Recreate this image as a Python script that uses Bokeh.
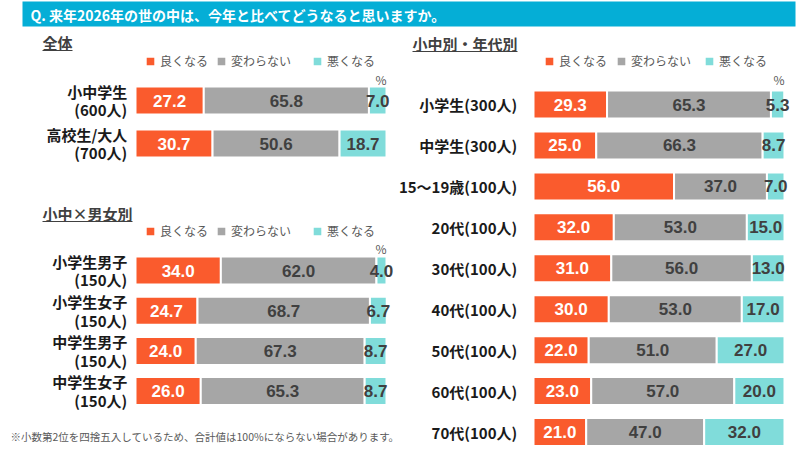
from bokeh.plotting import figure
from bokeh.models import Range1d, ColumnDataSource, Legend, LegendItem
from bokeh.embed import file_html
from bokeh.resources import INLINE
from bokeh.core.properties import value

# ---------------- data ----------------
title_text = "Q. 来年2026年の世の中は、今年と比べてどうなると思いますか。"
series = ["良くなる", "変わらない", "悪くなる"]
colors = ["#FA5B2D", "#A6A6A6", "#80DCDA"]

total_title = "全体"
total_cats = ["小中学生\n(600人)", "高校生/大人\n(700人)"]
total_good = [27.2, 30.7]
total_same = [65.8, 50.6]
total_bad = [7.0, 18.7]

gender_title = "小中×男女別"
gender_cats = ["小学生男子\n(150人)", "小学生女子\n(150人)", "中学生男子\n(150人)", "中学生女子\n(150人)"]
gender_good = [34.0, 24.7, 24.0, 26.0]
gender_same = [62.0, 68.7, 67.3, 65.3]
gender_bad = [4.0, 6.7, 8.7, 8.7]

age_title = "小中別・年代別"
age_cats = ["小学生(300人)", "中学生(300人)", "15〜19歳(100人)", "20代(100人)", "30代(100人)",
            "40代(100人)", "50代(100人)", "60代(100人)", "70代(100人)"]
age_good = [29.3, 25.0, 56.0, 32.0, 31.0, 30.0, 22.0, 23.0, 21.0]
age_same = [65.3, 66.3, 37.0, 53.0, 56.0, 53.0, 51.0, 57.0, 47.0]
age_bad = [5.3, 8.7, 7.0, 15.0, 13.0, 17.0, 27.0, 20.0, 32.0]

footnote = "※小数第2位を四捨五入しているため、合計値は100%にならない場合があります。"

# ---------------- figure ----------------
W, H = 800, 464
JP = value("Noto Sans CJK JP")
NUM = value("Liberation Sans")

p = figure(width=W, height=H, x_range=Range1d(0, W), y_range=Range1d(H, 0),
           x_axis_type=None, y_axis_type=None, output_backend="svg",
           toolbar_location=None, min_border=0, outline_line_color=None)
p.grid.visible = False
p.background_fill_color = "white"
p.border_fill_color = "white"

# percent scales for the two columns (0..100 -> bar span)
p.extra_x_ranges = {
    "xl": Range1d(-135 / 2.51, (W - 135) / 2.51),
    "xr": Range1d(-533 / 2.51, (W - 533) / 2.51),
}


def row_range(y0, step):
    return Range1d((H - y0) / step, -y0 / step)


p.extra_y_ranges = {
    "ya": row_range(100, 43.0),
    "yb": row_range(270, 40.2),
    "yc": row_range(104, 40.94),
}

# title bar
p.quad(left=[22], right=[795], top=[1], bottom=[26], fill_color="#05AED6", line_color=None)
p.text(x=[30], y=[14], text=[title_text], text_font=JP, text_font_size="14px",
       text_font_style="bold", text_color="white", text_baseline="middle")


def heading(x, y, txt, width):
    p.text(x=[x], y=[y], text=[txt], text_font=JP, text_font_size="15px",
           text_font_style="bold", text_color="#404040", text_baseline="middle")
    p.segment(x0=[x], x1=[x + width], y0=[y + 8], y1=[y + 8], line_color="#404040", line_width=1)


def panel(cats, good, same, bad, xr, yr, h, lab_x, legend_xs, legend_y, pct_y):
    idx = list(range(len(cats)))
    g_end = [g for g in good]
    s_end = [g + s for g, s in zip(good, same)]
    b_end = [g + s + b for g, s, b in zip(good, same, bad)]
    src = ColumnDataSource(dict(
        y=idx, cat=cats,
        l0=[0] * len(idx), r0=g_end,
        l1=g_end, r1=s_end,
        l2=s_end, r2=b_end,
        m0=[(a + b) / 2 for a, b in zip([0] * len(idx), g_end)],
        m1=[(a + b) / 2 for a, b in zip(g_end, s_end)],
        m2=[(a + b) / 2 for a, b in zip(s_end, b_end)],
        t0=[f"{v:.1f}" for v in good],
        t1=[f"{v:.1f}" for v in same],
        t2=[f"{v:.1f}" for v in bad],
    ))
    rends = []
    for k in range(3):
        r = p.hbar(y="y", left=f"l{k}", right=f"r{k}", height=h, source=src,
                   fill_color=colors[k], line_color="white", line_width=2,
                   x_range_name=xr, y_range_name=yr)
        rends.append(r)
    tcols = ["white", "#404040", "#404040"]
    for k in range(3):
        p.text(x=f"m{k}", y="y", text=f"t{k}", source=src, text_align="center",
               text_baseline="middle", text_font=NUM, text_font_size="17px",
               text_font_style="bold", text_color=tcols[k],
               x_range_name=xr, y_range_name=yr)
    # category labels
    p.text(x=lab_x, y="y", text="cat", source=src, text_align="right",
           text_baseline="middle", text_font=JP, text_font_size="15px",
           text_font_style="bold", text_color="#1a1a1a", text_line_height=0.9,
           x_range_name=xr, y_range_name=yr)
    # unit
    p.text(x=[100], y=[pct_y], text=["%"], text_align="right", text_baseline="middle",
           text_font=JP, text_font_size="12px", text_color="#595959",
           x_range_name=xr, y_range_name=yr)
    # legend (one item per box so each sits where the original puts it)
    for k in range(3):
        lg = Legend(items=[LegendItem(label=series[k], renderers=[rends[k]])],
                    location=(legend_xs[k], legend_y), orientation="horizontal",
                    padding=0, margin=0, spacing=0, glyph_width=12, glyph_height=12,
                    label_height=12, label_standoff=4, label_text_font="Noto Sans CJK JP",
                    label_text_font_size="12px", label_text_color="#595959",
                    border_line_alpha=0, background_fill_alpha=0)
        p.add_layout(lg)


heading(42, 42, total_title, 30)
panel(total_cats, total_good, total_same, total_bad, "xl", "ya", 28 / 43.0, -3.3,
      [144, 215, 311], 395, -0.5)

heading(42, 213, gender_title, 90)
panel(gender_cats, gender_good, gender_same, gender_bad, "xl", "yb", 28 / 40.2, -3.3,
      [144, 215, 311], 225, -0.55)

heading(412, 43, age_title, 105)
panel(age_cats, age_good, age_same, age_bad, "xr", "yc", 28 / 40.94, -6.5,
      [543, 615, 703], 395, -0.6)

p.text(x=[10], y=[436], text=[footnote], text_font=JP, text_font_size="10.5px",
       text_color="#595959", text_baseline="middle")

html = file_html(p, INLINE)
html = html.replace("</head>", "<style>html,body{margin:0;padding:0;}</style>\n</head>", 1)
open("out.html", "w").write(html)
